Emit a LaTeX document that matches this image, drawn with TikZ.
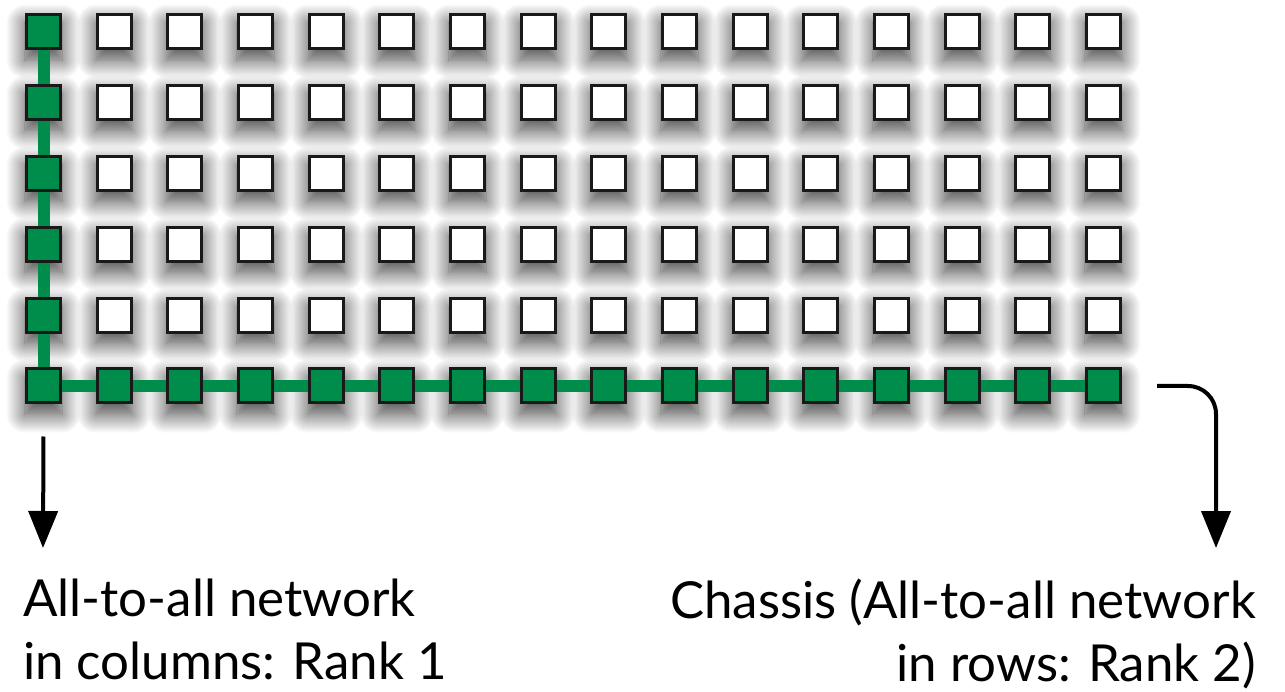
\documentclass[tikz,border=0pt]{standalone}
\usepackage{fontspec}
\setmainfont{Lato}
\usetikzlibrary{arrows.meta, shadows.blur}

\definecolor{netgreen}{RGB}{0,140,75}

\begin{document}
\begin{tikzpicture}[
    x=1pt, y=-1pt,
    cell/.style={rectangle, draw=black!90, line width=3pt, minimum size=34pt,
      inner sep=0pt, fill=white,
      blur shadow={shadow xshift=0pt, shadow yshift=-9pt, shadow blur radius=17pt,
        shadow blur steps=20, shadow opacity=75, shadow scale=1.1}},
    live/.style={cell, fill=netgreen},
    link/.style={netgreen, line width=12pt},
    arrow/.style={-{Triangle[length=37pt, width=29pt]}, line width=4pt},
    caption/.style={font=\fontsize{51}{63}\selectfont, inner sep=0pt},
  ]
  \useasboundingbox (0,0) rectangle (1285,692);

  % 16 x 6 grid of nodes, first column and last row are green
  \foreach \c in {1,...,16} {
    \foreach \r in {1,...,6} {
      \pgfmathsetmacro{\px}{43.5 + 70.67*(\c-1)}
      \pgfmathsetmacro{\py}{31.5 + 70.9*(\r-1)}
      \ifnum\c=1 \def\kind{live}\else\ifnum\r=6 \def\kind{live}\else\def\kind{cell}\fi\fi
      \node[\kind] (c-\c-\r) at (\px,\py) {};
    }
  }

  % column network
  \foreach \r [evaluate=\r as \n using int(\r+1)] in {1,...,5}
    \draw[link] (c-1-\r) -- (c-1-\n);
  % row network
  \foreach \c [evaluate=\c as \n using int(\c+1)] in {1,...,15}
    \draw[link] (c-\c-6) -- (c-\n-6);

  \node[caption, anchor=north west, align=left] (rank1) at (23,579)
    {All-to-all network\\in columns: Rank 1};
  \node[caption, anchor=north east, align=right] (rank2) at (1256,579)
    {Chassis (All-to-all network\\in rows: Rank 2)};

  \coordinate (t1) at (43,548);
  \coordinate (t2) at (1216,548);
  \draw[arrow] ([yshift=-32pt]c-1-6.south) -- (t1);
  \draw[arrow, rounded corners=28pt] ([xshift=35pt]c-16-6.east) -| (t2);
\end{tikzpicture}
\end{document}
